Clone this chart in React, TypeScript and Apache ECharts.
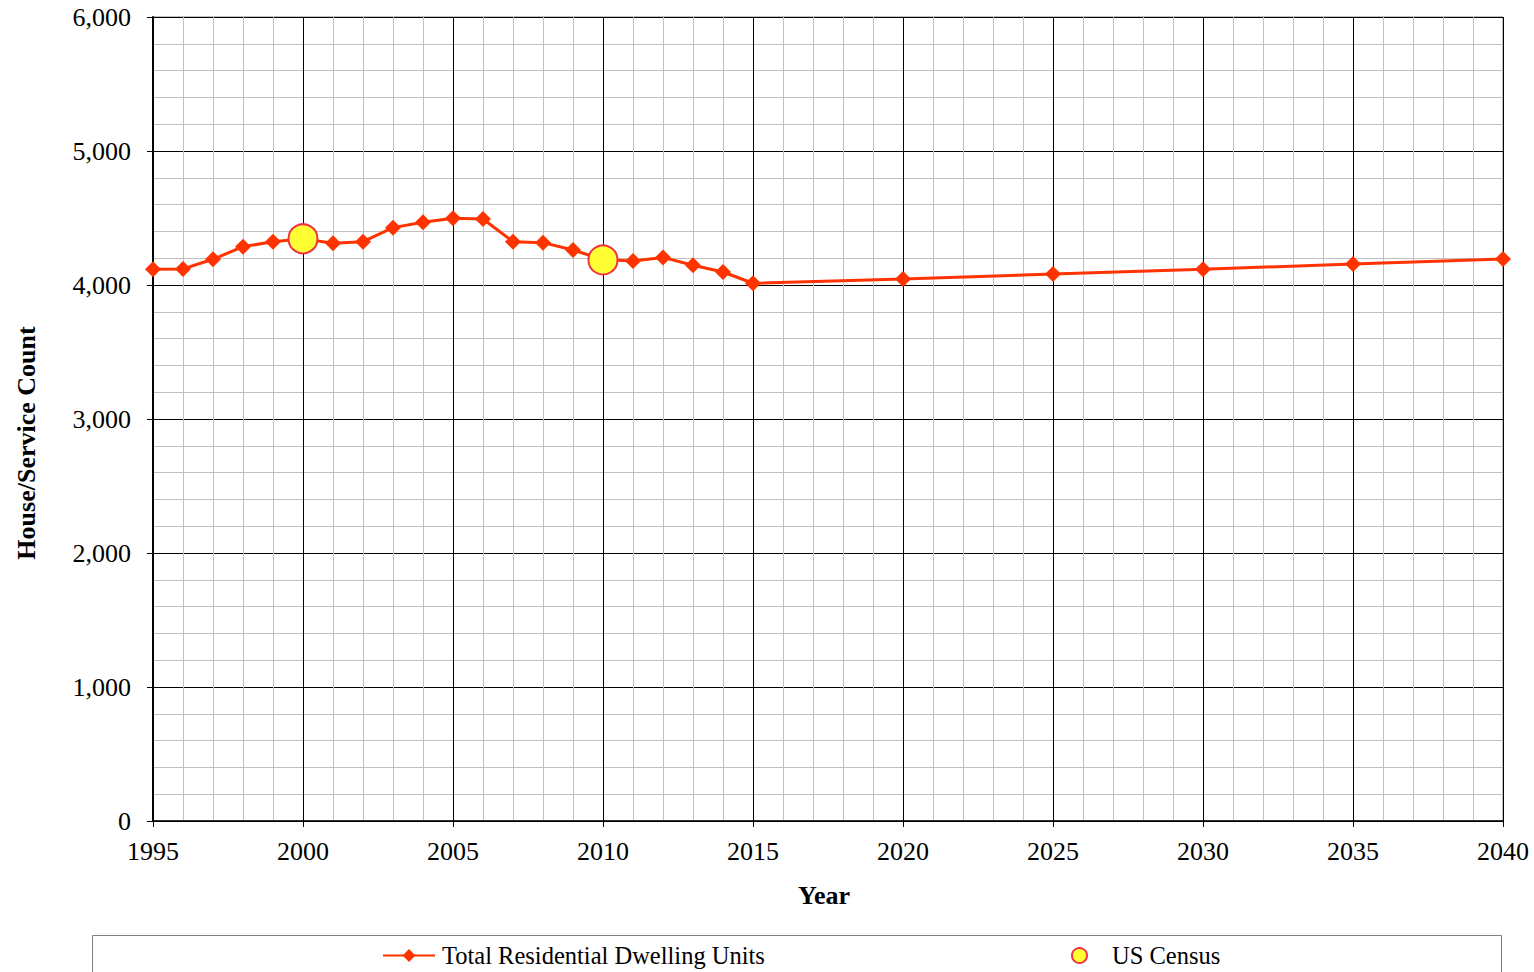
import React, { useEffect, useRef } from "react";
import * as echarts from "echarts";

const years = [1995, 1996, 1997, 1998, 1999, 2000, 2001, 2002, 2003, 2004, 2005, 2006, 2007, 2008, 2009, 2010, 2011, 2012, 2013, 2014, 2015, 2020, 2025, 2030, 2035, 2040];
const units = [4117, 4120, 4192, 4286, 4323, 4345, 4311, 4323, 4428, 4468, 4498, 4492, 4323, 4316, 4261, 4190, 4179, 4206, 4147, 4097, 4013, 4045, 4082, 4117, 4157, 4194];
const censusYears = [2000, 2010];
const censusValues = [4345, 4187];
const yTicks = [0, 1000, 2000, 3000, 4000, 5000, 6000];

const FONT = "Liberation Serif";

export default function App() {
  const ref = useRef<HTMLDivElement>(null);
  useEffect(() => {
    const chart = echarts.init(ref.current!, null, { renderer: "svg" });
    chart.setOption({
      animation: false,
      backgroundColor: "#ffffff",
      grid: { left: 153, right: 31, top: 17, bottom: 151, show: true, borderColor: "#808080", borderWidth: 1, backgroundColor: "transparent" },
      xAxis: {
        type: "value",
        min: 1995,
        max: 2040,
        interval: 5,
        axisLine: { show: true, lineStyle: { color: "#000", width: 1.5 } },
        axisTick: { show: true, length: 6, lineStyle: { color: "#000" } },
        axisLabel: { fontFamily: FONT, fontSize: 26, color: "#000", margin: 17, formatter: (v: number) => String(v) },
        splitLine: { show: true, lineStyle: { color: "#000", width: 1 } },
        minorTick: { show: false, splitNumber: 5 },
        minorSplitLine: { show: true, lineStyle: { color: "#c0c0c0", width: 1 } },
      },
      yAxis: {
        type: "value",
        min: yTicks[0],
        max: yTicks[yTicks.length - 1],
        interval: 1000,
        axisLine: { show: true, lineStyle: { color: "#000", width: 2 } },
        axisTick: { show: true, length: 6, lineStyle: { color: "#000" } },
        axisLabel: {
          fontFamily: FONT,
          fontSize: 26,
          color: "#000",
          margin: 22,
          formatter: (v: number) => v.toLocaleString("en-US"),
        },
        splitLine: { show: true, lineStyle: { color: "#000", width: 1 } },
        minorTick: { show: false, splitNumber: 5 },
        minorSplitLine: { show: true, lineStyle: { color: "#c0c0c0", width: 1 } },
      },
      legend: [
        {
          data: ["Total Residential Dwelling Units"],
          left: 377,
          top: 938,
          itemWidth: 52,
          itemHeight: 16,
          textStyle: { fontFamily: FONT, fontSize: 24.5, color: "#000", padding: [0, 0, 0, 2] },
        },
        {
          data: ["US Census"],
          left: 1066,
          top: 938,
          itemWidth: 15,
          itemHeight: 15,
          textStyle: { fontFamily: FONT, fontSize: 24.5, color: "#000", padding: [0, 0, 0, 20] },
        },
      ],
      graphic: [
        {
          type: "rect",
          shape: { x: 92.5, y: 935.5, width: 1409, height: 60 },
          style: { fill: "none", stroke: "#808080", lineWidth: 1 },
          z: -1,
        },
        {
          type: "text",
          x: 26,
          y: 443,
          rotation: Math.PI / 2,
          style: {
            text: "House/Service Count",
            fontFamily: FONT,
            fontSize: 26,
            fontWeight: "bold",
            fill: "#000",
            align: "center",
            verticalAlign: "middle",
          },
        },
        {
          type: "text",
          x: 824,
          y: 895,
          style: {
            text: "Year",
            fontFamily: FONT,
            fontSize: 26,
            fontWeight: "bold",
            fill: "#000",
            align: "center",
            verticalAlign: "middle",
          },
        },
      ],
      series: [
        {
          name: "Total Residential Dwelling Units",
          type: "line",
          data: years.map((y, i) => [y, units[i]]),
          symbol: "diamond",
          symbolSize: 16,
          lineStyle: { color: "#ff3300", width: 3 },
          itemStyle: { color: "#ff3300" },
          z: 3,
        },
        {
          name: "US Census",
          type: "scatter",
          data: censusYears.map((y, i) => [y, censusValues[i]]),
          symbol: "circle",
          symbolSize: 29,
          itemStyle: { color: "#ffff33", borderColor: "#ee3344", borderWidth: 2, opacity: 1 },
          z: 10,
        },
      ],
    });
    return () => chart.dispose();
  }, []);
  return <div ref={ref} style={{ width: 1534, height: 972, position: "absolute", left: 0, top: 0 }} />;
}
